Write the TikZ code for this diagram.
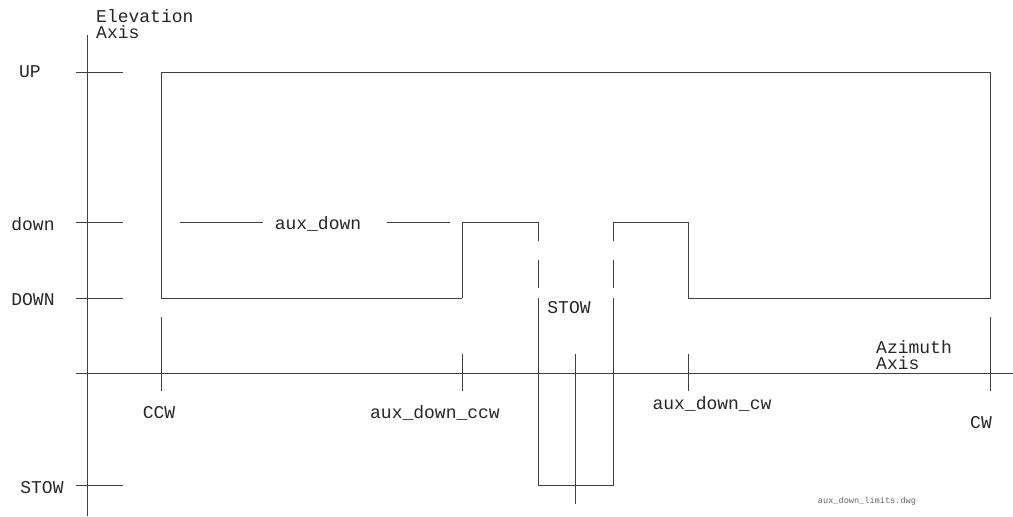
\documentclass[tikz,border=0pt]{standalone}
\usepackage{fontspec}
\setmainfont{Liberation Mono}
\begin{document}
\begin{tikzpicture}[x=1pt,y=-1pt,
  ln/.style={line width=1pt,draw=black!75},
  lbl/.style={inner sep=0pt,font=\fontsize{18}{16}\selectfont,text=black!85},
  tiny/.style={inner sep=0pt,font=\fontsize{8.6}{9}\selectfont,text=black!60}]
\useasboundingbox (0,0) rectangle (1013,517);
% axes
\coordinate (elT) at (87,35); \coordinate (elB) at (87,516);
\coordinate (azL) at (76,373); \coordinate (azR) at (1013,373);
\draw[ln] (elT) -- (elB);
\draw[ln] (azL) -- (azR);
% elevation ticks
\foreach \y/\n in {72/up,222/dn,298/DN,485/st}{
  \coordinate (t\n a) at (76,\y); \coordinate (t\n b) at (123,\y);
  \draw[ln] (t\n a) -- (t\n b);}
% labels on the elevation axis
\node[lbl] (lUP) at (30,72) {UP};
\node[lbl] (ldown) at (33,224) {down};
\node[lbl] (lDOWN) at (33,300) {DOWN};
\node[lbl] (lSTOW) at (42,488) {STOW};
\node[lbl,anchor=north west,align=left] (lEl) at (96,9) {Elevation\\Axis};
\node[lbl,anchor=south west,align=left] (lAz) at (876,370) {Azimuth\\Axis};
% limit outline
\coordinate (p1) at (161,298); \coordinate (p2) at (161,72);
\coordinate (p3) at (990,72); \coordinate (p4) at (990,298);
\coordinate (p5) at (688,298); \coordinate (p6) at (688,222);
\coordinate (p7) at (613,222);
\coordinate (q1) at (462,298); \coordinate (q2) at (462,222);
\coordinate (q3) at (538,222);
\draw[ln] (q1) -- (p1) -- (p2) -- (p3) -- (p4) -- (p5) -- (p6) -- (p7) -- (613,241);
\draw[ln] (q1) -- (q2) -- (q3) -- (538,241);
\draw[ln] (538,260) -- (538,288);
\draw[ln] (613,260) -- (613,288);
% STOW box
\coordinate (s1) at (538,298); \coordinate (s2) at (538,485);
\coordinate (s3) at (613,485); \coordinate (s4) at (613,298);
\draw[ln] (s1) -- (s2) -- (s3) -- (s4);
\node[lbl] (lstow) at (569,308) {STOW};
\coordinate (c1) at (575,354); \coordinate (c2) at (575,504);
\draw[ln] (c1) -- (c2);
% aux_down level
\node[lbl] (laux) at (318,224) {aux\_down};
\coordinate (a1) at (180,222); \coordinate (a2) at (263,222);
\coordinate (a3) at (387,222); \coordinate (a4) at (450,222);
\draw[ln] (a1) -- (a2);
\draw[ln] (a3) -- (a4);
% azimuth ticks
\coordinate (k1a) at (161,317); \coordinate (k1b) at (161,391);
\coordinate (k2a) at (462,354); \coordinate (k2b) at (462,391);
\coordinate (k3a) at (688,354); \coordinate (k3b) at (688,391);
\coordinate (k4a) at (990,317); \coordinate (k4b) at (990,391);
\draw[ln] (k1a) -- (k1b);
\draw[ln] (k2a) -- (k2b);
\draw[ln] (k3a) -- (k3b);
\draw[ln] (k4a) -- (k4b);
\node[lbl] (lccw) at (159,413) {CCW};
\node[lbl] (lauxccw) at (435,413) {aux\_down\_ccw};
\node[lbl] (lauxcw) at (712,404) {aux\_down\_cw};
\node[lbl] (lcw) at (981,423) {CW};
\node[tiny] (lfile) at (867,501) {aux\_down\_limits.dwg};
\end{tikzpicture}
\end{document}
